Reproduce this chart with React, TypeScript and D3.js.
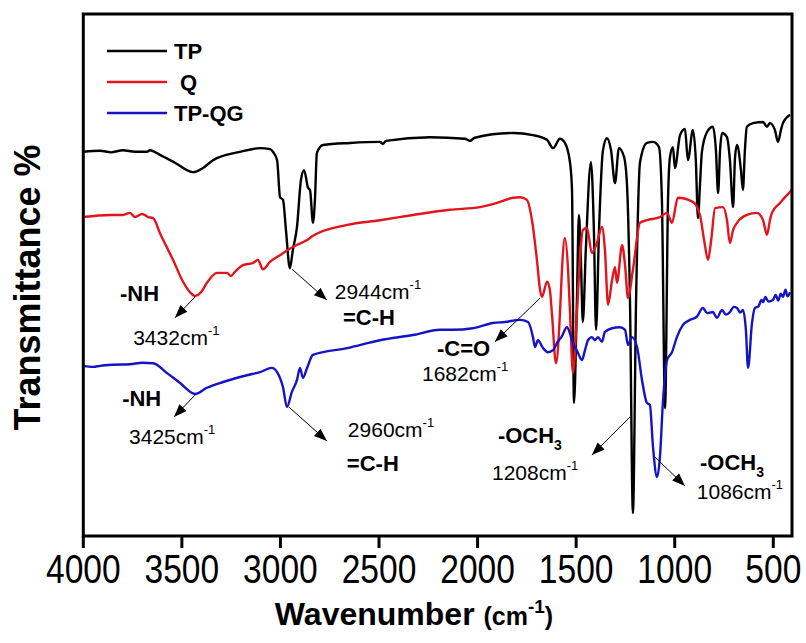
import React from 'react';
import * as d3 from 'd3';

const xTicks = [4000, 3500, 3000, 2500, 2000, 1500, 1000, 500];
const seriesNames = ['TP', 'Q', 'TP-QG'];
const seriesColors = ['#000000', '#e3141b', '#1414c4'];

// [wavenumber (cm-1), transmittance (arbitrary, offset)]
const tpData: [number, number][] = [
  [4000, 73.6], [3915, 73.8], [3860, 73.5], [3799, 73.9], [3738, 73.6], [3677, 73.6], [3662, 73.9],
  [3611, 73.0], [3535, 71.5], [3444, 69.7], [3393, 70.5], [3342, 72.0], [3205, 73.6], [3104, 74.3],
  [3053, 74.1], [3038, 73.6], [3017, 72.0], [3002, 64.9], [2987, 64.4], [2972, 58.6], [2952, 51.3],
  [2937, 54.8], [2916, 59.2], [2896, 68.2], [2880, 70.1], [2860, 66.7], [2850, 66.3], [2835, 60.0],
  [2825, 64.4], [2815, 73.4], [2784, 74.9], [2647, 75.3], [2495, 75.5], [2480, 75.1], [2465, 75.7],
  [2241, 76.4], [2064, 76.1], [2039, 75.7], [2014, 76.3], [1820, 77.2], [1719, 76.8], [1648, 75.9],
  [1617, 74.3], [1582, 76.1], [1557, 75.3], [1531, 71.5], [1521, 66.3], [1511, 25.5], [1496, 45.2],
  [1486, 61.5], [1476, 52.9], [1466, 41.0], [1451, 54.8], [1425, 71.6], [1410, 58.6], [1399, 39.5],
  [1384, 58.6], [1364, 73.9], [1344, 76.2], [1323, 73.9], [1303, 67.6], [1283, 74.3], [1257, 72.6],
  [1242, 67.2], [1227, 45.2], [1212, 4.4], [1196, 45.2], [1176, 71.6], [1141, 75.3], [1110, 75.5],
  [1080, 74.5], [1065, 64.4], [1049, 24.5], [1034, 64.4], [1024, 72.6], [1009, 74.5], [999, 70.5],
  [973, 76.8], [948, 78.0], [933, 72.0], [908, 77.8], [893, 72.0], [882, 60.9], [872, 67.2],
  [862, 73.6], [836, 77.4], [806, 78.4], [791, 73.9], [780, 65.7], [770, 73.9], [760, 77.2],
  [735, 76.4], [720, 72.0], [704, 63.0], [694, 72.6], [684, 74.9], [664, 70.1], [654, 66.3],
  [644, 73.9], [634, 78.4], [603, 79.1], [552, 79.3], [532, 78.4], [517, 79.1], [492, 77.8],
  [476, 75.5], [461, 77.8], [451, 79.1], [415, 80.7]
];

const qData: [number, number][] = [
  [4000, 61.1], [3865, 61.5], [3799, 61.5], [3763, 61.9], [3738, 61.1], [3702, 61.7], [3672, 61.1],
  [3646, 60.9], [3611, 58.0], [3545, 52.9], [3494, 48.7], [3459, 46.7], [3433, 46.0], [3403, 46.7],
  [3373, 48.5], [3322, 50.4], [3271, 50.4], [3251, 49.8], [3231, 50.6], [3190, 51.9], [3139, 52.3],
  [3114, 52.9], [3089, 51.1], [3053, 52.5], [3002, 53.8], [2936, 55.4], [2865, 56.7], [2835, 57.5],
  [2662, 59.6], [2495, 60.5], [2328, 61.5], [2140, 62.5], [1988, 63.0], [1886, 64.0], [1820, 64.8],
  [1785, 64.9], [1750, 64.4], [1724, 60.5], [1699, 52.9], [1683, 47.1], [1673, 45.8], [1648, 48.7],
  [1633, 47.1], [1623, 42.7], [1602, 33.1], [1582, 42.7], [1572, 51.0], [1557, 57.1], [1541, 51.0],
  [1531, 42.7], [1516, 31.2], [1496, 42.7], [1481, 52.9], [1466, 58.6], [1445, 59.0], [1420, 54.2],
  [1395, 56.1], [1369, 59.2], [1354, 54.8], [1338, 44.3], [1318, 49.0], [1303, 51.5], [1293, 48.5],
  [1267, 55.7], [1252, 51.9], [1237, 45.6], [1212, 51.0], [1176, 60.0], [1141, 60.5], [1075, 61.1],
  [1039, 61.9], [1014, 60.0], [984, 64.8], [908, 64.0], [872, 61.5], [851, 56.7], [831, 52.9],
  [815, 56.7], [795, 62.8], [755, 63.0], [735, 60.5], [720, 56.1], [704, 58.6], [684, 60.0],
  [634, 61.5], [583, 61.9], [552, 60.5], [532, 57.7], [517, 60.5], [507, 61.9], [466, 63.8], [405, 66.3]
];

const tpqgData: [number, number][] = [
  [4000, 32.6], [3950, 32.4], [3915, 32.6], [3849, 32.8], [3763, 32.9], [3700, 33.2], [3646, 33.1],
  [3575, 31.2], [3509, 29.3], [3433, 27.2], [3373, 28.4], [3291, 29.5], [3170, 30.8], [3104, 31.4],
  [3043, 32.2], [3017, 31.4], [2987, 28.5], [2967, 24.7], [2942, 27.6], [2916, 29.9], [2901, 32.2],
  [2886, 30.3], [2865, 32.2], [2835, 34.7], [2662, 36.0], [2495, 37.5], [2328, 38.5], [2191, 39.5],
  [2125, 39.5], [2024, 39.8], [1922, 40.8], [1861, 41.0], [1785, 41.4], [1744, 41.0], [1719, 38.1],
  [1709, 36.2], [1694, 37.5], [1668, 36.0], [1643, 35.2], [1617, 35.6], [1597, 37.0], [1572, 38.3],
  [1547, 40.0], [1516, 37.0], [1491, 35.1], [1471, 33.7], [1455, 35.6], [1440, 37.5], [1420, 38.1],
  [1405, 37.5], [1389, 38.1], [1369, 37.2], [1354, 39.1], [1318, 39.8], [1278, 40.0], [1252, 39.5],
  [1237, 36.6], [1217, 38.1], [1191, 36.2], [1166, 29.9], [1141, 25.5], [1126, 25.1], [1110, 17.0],
  [1090, 11.3], [1075, 15.1], [1060, 25.5], [1039, 33.7], [1014, 35.2], [989, 38.1], [959, 40.4],
  [923, 41.4], [888, 42.0], [857, 43.7], [836, 42.7], [806, 42.9], [786, 41.8], [760, 43.3],
  [740, 42.4], [720, 42.9], [700, 43.9], [684, 43.7], [668, 42.8], [654, 43.3], [639, 39.5],
  [628, 32.2], [608, 40.8], [593, 43.7], [575, 44.0], [560, 45.2], [552, 44.8], [540, 45.8],
  [525, 44.9], [502, 45.2], [488, 46.2], [475, 45.1], [462, 46.4], [451, 45.8], [438, 47.2],
  [428, 45.9], [415, 46.7]
];

const allSeries = [tpData, qData, tpqgData];

// annotation arrows: from [wn, value] to [wn, value]
const arrowFrom: [number, number][] = [
  [3433, 45.8], [2941, 51.1], [3433, 27.0], [2957, 24.7], [1683, 45.6], [1227, 22.8], [1100, 15.1]
];
const arrowTo: [number, number][] = [
  [3535, 41.8], [2764, 45.2], [3540, 22.8], [2764, 18.2], [1912, 37.2], [1420, 15.5], [948, 9.6]
];

// annotation labels
const groupLabels = ['-NH', '=C-H', '-NH', '=C-H', '-C=O'];
const groupPos: [number, number][] = [
  [3814, 45.0], [2683, 40.4], [3803, 24.9], [2663, 12.5], [2206, 34.5]
];
const methoxyPos: [number, number][] = [[1897, 17.8], [872, 12.6]];
const peakLabels = ['3432', '2944', '3425', '2960', '1682', '1208', '1086'];
const peakPos: [number, number][] = [
  [3747, 36.6], [2724, 45.4], [3768, 17.6], [2658, 19.0], [2282, 29.7], [1927, 10.7], [888, 7.1]
];

const W = 806;
const H = 643;
const FONT = 'Liberation Sans, Arial, Helvetica, sans-serif';

export default function App() {
  const x = d3.scaleLinear().domain([4000, 400]).range([83.3, 793]);
  const y = d3.scaleLinear().domain([0, 100]).range([536, 14]);
  const line = d3
    .line<[number, number]>()
    .x((d) => x(d[0]))
    .y((d) => y(d[1]))
    .curve(d3.curveMonotoneX);

  const frameL = 83.3;
  const frameR = 792;
  const frameT = 14;
  const frameB = 536;

  return (
    <svg
      width={W}
      height={H}
      style={{ position: 'absolute', left: 0, top: 0, background: '#fff' }}
      fontFamily={FONT}
    >
      <defs>
        <marker
          id="arrowHead"
          viewBox="0 0 10 10"
          refX={10}
          refY={5}
          markerWidth={13}
          markerHeight={13}
          markerUnits="userSpaceOnUse"
          orient="auto"
        >
          <path d="M0,1.2 L10,5 L0,8.8 Z" fill="#000" />
        </marker>
      </defs>
      <rect x={0} y={0} width={W} height={H} fill="#fff" />

      {allSeries.map((s, i) => (
        <path
          key={seriesNames[i]}
          d={line(s) || ''}
          fill="none"
          stroke={seriesColors[i]}
          strokeWidth={2.4}
          strokeLinejoin="round"
        />
      ))}

      {/* frame */}
      <rect
        x={frameL}
        y={frameT}
        width={frameR - frameL}
        height={frameB - frameT}
        fill="none"
        stroke="#000"
        strokeWidth={3}
      />

      {/* x ticks */}
      {xTicks.map((t) => (
        <g key={t}>
          <line x1={x(t)} x2={x(t)} y1={frameB} y2={frameB + 12} stroke="#000" strokeWidth={3} />
          <text
            transform={`translate(${x(t)},583) scale(0.84,1)`}
            textAnchor="middle"
            fontSize={40}
            fill="#000"
          >
            {t}
          </text>
        </g>
      ))}

      {/* axis titles */}
      <text x={414} y={625} textAnchor="middle" fontWeight="bold" fill="#000">
        <tspan fontSize={32}>Wavenumber </tspan>
        <tspan fontSize={25}>(cm</tspan>
        <tspan fontSize={19} dy={-12}>-1</tspan>
        <tspan fontSize={25} dy={12}>)</tspan>
      </text>
      <text
        transform="translate(40,287.5) rotate(-90)"
        textAnchor="middle"
        fontWeight="bold"
        fontSize={36}
        fill="#000"
      >
        Transmittance %
      </text>

      {/* legend */}
      {seriesNames.map((n, i) => (
        <g key={n}>
          <line x1={107} x2={167} y1={51 + i * 31} y2={51 + i * 31} stroke={seriesColors[i]} strokeWidth={2.5} />
          <text x={n === 'Q' ? 180 : 174} y={58.5 + i * 31} fontSize={22} fontWeight="bold" fill="#000">
            {n}
          </text>
        </g>
      ))}

      {/* arrows */}
      {arrowFrom.map((f, i) => (
        <line
          key={'a' + i}
          x1={x(f[0])}
          y1={y(f[1])}
          x2={x(arrowTo[i][0])}
          y2={y(arrowTo[i][1])}
          stroke="#000"
          strokeWidth={1}
          markerEnd="url(#arrowHead)"
        />
      ))}

      {/* group labels */}
      {groupLabels.map((g, i) => (
        <text key={'g' + i} x={x(groupPos[i][0])} y={y(groupPos[i][1])} fontSize={22} fontWeight="bold" fill="#000">
          {g}
        </text>
      ))}
      {methoxyPos.map((p, i) => (
        <text key={'m' + i} x={x(p[0])} y={y(p[1])} fontSize={22} fontWeight="bold" fill="#000">
          -OCH<tspan fontSize={14} dy={7}>3</tspan>
        </text>
      ))}

      {/* peak labels */}
      {peakLabels.map((p, i) => (
        <text key={'p' + i} x={x(peakPos[i][0])} y={y(peakPos[i][1])} fontSize={21} fill="#000">
          {p}cm<tspan fontSize={13} dy={-10}>-1</tspan>
        </text>
      ))}
    </svg>
  );
}
